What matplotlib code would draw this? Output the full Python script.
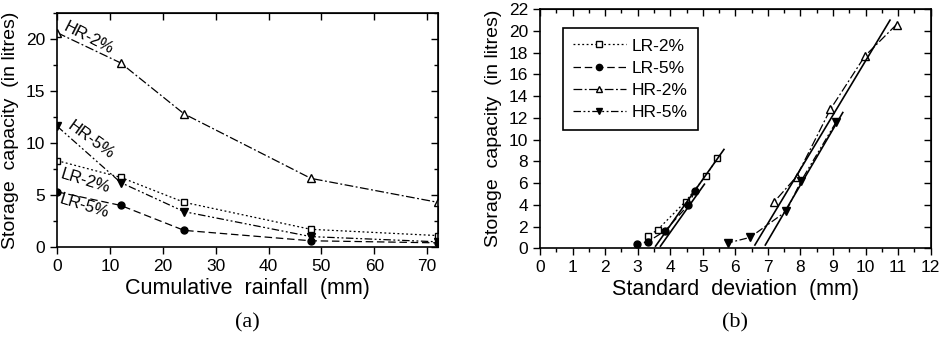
import matplotlib
matplotlib.use("Agg")
import matplotlib.pyplot as plt
from matplotlib.ticker import MultipleLocator
from matplotlib.lines import Line2D

plt.rcParams['font.family'] = ['Liberation Sans', 'DejaVu Sans']

# ---------------- data ----------------
rainfall = [0, 12, 24, 48, 72]
series_names = ["LR-2%", "LR-5%", "HR-2%", "HR-5%"]

storage_lr2 = [8.3, 6.7, 4.3, 1.7, 1.1]
storage_lr5 = [5.3, 4.0, 1.6, 0.6, 0.4]
storage_hr2 = [20.6, 17.7, 12.8, 6.6, 4.3]
storage_hr5 = [11.6, 6.2, 3.4, 1.0, 0.5]

sd_lr2 = [5.45, 5.10, 4.47, 3.61, 3.31]
sd_lr5 = [4.76, 4.56, 3.84, 3.31, 2.97]
sd_hr2 = [10.95, 9.98, 8.92, 7.88, 7.20]
sd_hr5 = [9.09, 8.02, 7.56, 6.45, 5.78]

# fitted straight lines in panel (b): end points (sd, storage)
fit_lr2_x = [3.55, 5.65]
fit_lr2_y = [0.2, 9.1]
fit_lr5_x = [3.70, 5.05]
fit_lr5_y = [0.2, 5.9]
fit_hr2_x = [6.60, 10.75]
fit_hr2_y = [0.3, 21.0]
fit_hr5_x = [6.92, 9.30]
fit_hr5_y = [0.3, 12.5]

# annotation labels in panel (a): (x, y, rotation)
label_pos = {"HR-2%": (5.9, 20.1, -27),
             "HR-5%": (6.3, 10.3, -36),
             "LR-2%": (5.4, 6.35, -17),
             "LR-5%": (5.1, 3.95, -17)}

# ---------------- styles ----------------
styles = {
    "LR-2%": dict(ls=(0, (1.5, 2.0)), marker='s', mfc='white', ms=4.5),
    "LR-5%": dict(ls=(0, (6, 3)), marker='o', mfc='black', ms=5),
    "HR-2%": dict(ls=(0, (7, 2, 1.5, 2)), marker='^', mfc='white', ms=5.5),
    "HR-5%": dict(ls=(0, (6, 2, 1.5, 2, 1.5, 2)), marker='v', mfc='black', ms=5.5),
}

fig = plt.figure(figsize=(9.5, 3.38), dpi=100)
axA = fig.add_axes([0.0603, 0.2692, 0.4004, 0.6923])
axB = fig.add_axes([0.5684, 0.2654, 0.4113, 0.7071])

lw = 0.9
storages = [storage_lr2, storage_lr5, storage_hr2, storage_hr5]
sds = [sd_lr2, sd_lr5, sd_hr2, sd_hr5]

def style_axes(ax):
    for s in ax.spines.values():
        s.set_linewidth(1.2)
    ax.tick_params(which='both', direction='out', top=False, right=False,
                   labelsize=12.5, width=1.0)
    ax.tick_params(which='major', length=5)
    ax.tick_params(which='minor', length=3)

# ---------- panel (a) ----------
for name, y in zip(series_names, storages):
    st = styles[name]
    axA.plot(rainfall, y, color='black', lw=lw, ls=st['ls'], marker=st['marker'],
             mfc=st['mfc'], mec='black', ms=st['ms'], mew=1.0)
for name, (x, y, rot) in label_pos.items():
    axA.text(x, y, name, rotation=rot, fontsize=12, ha='center', va='center',
             rotation_mode='anchor')

axA.set_xlim(0, 72)
axA.set_ylim(0, 22.5)
axA.xaxis.set_major_locator(MultipleLocator(10))
axA.yaxis.set_major_locator(MultipleLocator(5))
axA.yaxis.set_minor_locator(MultipleLocator(2.5))
style_axes(axA)
axA.set_xlabel("Cumulative  rainfall  (mm)", fontsize=15.5, labelpad=3)
axA.set_ylabel("Storage  capacity  (in litres)", fontsize=14, labelpad=5)

topA = axA.secondary_xaxis('top')
topA.xaxis.set_major_locator(MultipleLocator(10))
topA.tick_params(direction='in', labeltop=False, length=5, width=1.0)
rightA = axA.secondary_yaxis('right')
rightA.yaxis.set_major_locator(MultipleLocator(5))
rightA.yaxis.set_minor_locator(MultipleLocator(2.5))
rightA.tick_params(which='both', direction='in', labelright=False, width=1.0)
rightA.tick_params(which='major', length=5)
rightA.tick_params(which='minor', length=3)

# ---------- panel (b) ----------
handles = []
for name, x, y in zip(series_names, sds, storages):
    st = styles[name]
    axB.plot(x, y, color='black', lw=lw, ls=st['ls'], marker=st['marker'],
             mfc=st['mfc'], mec='black', ms=st['ms'], mew=1.0)
    handles.append(Line2D([], [], color='black', lw=lw, ls=st['ls'], marker=st['marker'],
                          mfc=st['mfc'], mec='black', ms=st['ms'] - 0.5, mew=1.0))
for fx, fy in [(fit_lr2_x, fit_lr2_y), (fit_lr5_x, fit_lr5_y),
               (fit_hr2_x, fit_hr2_y), (fit_hr5_x, fit_hr5_y)]:
    axB.plot(fx, fy, color='black', lw=1.2, ls='-')

axB.set_xlim(0, 12)
axB.set_ylim(0, 22)
axB.xaxis.set_major_locator(MultipleLocator(1))
axB.xaxis.set_minor_locator(MultipleLocator(0.5))
axB.yaxis.set_major_locator(MultipleLocator(2))
style_axes(axB)
axB.set_xlabel("Standard  deviation  (mm)", fontsize=15.5, labelpad=3)
axB.set_ylabel("Storage  capacity  (in litres)", fontsize=14, labelpad=5)

topB = axB.secondary_xaxis('top')
topB.xaxis.set_major_locator(MultipleLocator(1))
topB.xaxis.set_minor_locator(MultipleLocator(0.5))
topB.tick_params(which='both', direction='in', labeltop=False, width=1.0)
topB.tick_params(which='major', length=5)
topB.tick_params(which='minor', length=3)
rightB = axB.secondary_yaxis('right')
rightB.yaxis.set_major_locator(MultipleLocator(2))
rightB.tick_params(direction='in', labelright=False, length=5, width=1.0)

leg = axB.legend(handles, series_names, loc='upper left',
                 bbox_to_anchor=(0.059, 0.922), borderaxespad=0, fontsize=12.5,
                 handlelength=3.0, handletextpad=0.35, borderpad=0.6,
                 labelspacing=0.4, fancybox=False, edgecolor='black', framealpha=1)
leg.get_frame().set_linewidth(1.2)

fig.text(0.2605, 0.03, "(a)", fontsize=16, family='Liberation Serif', ha='center')
fig.text(0.7740, 0.03, "(b)", fontsize=16, family='Liberation Serif', ha='center')

fig.savefig("out.png", dpi=100)
